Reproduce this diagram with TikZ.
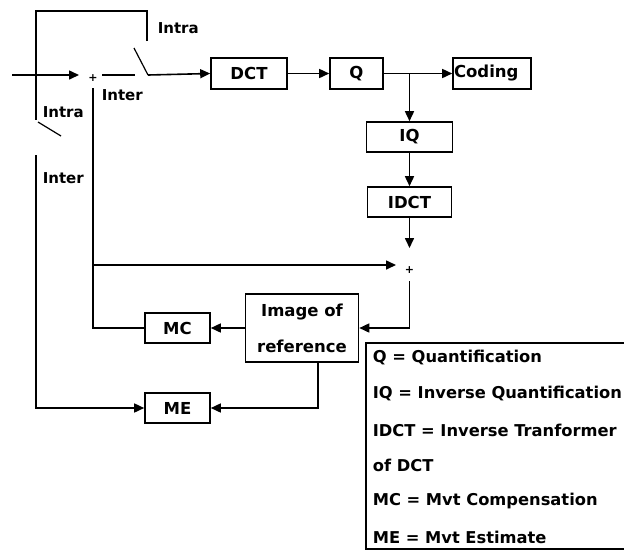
\documentclass[tikz,border=0pt]{standalone}
\usepackage{fontspec}
\setmainfont{DejaVu Sans}
\usetikzlibrary{arrows.meta}
\begin{document}
\begin{tikzpicture}[x=1pt,y=-1pt, line width=1.6pt,
  box/.style={draw, line width=1.6pt, minimum height=31pt, inner sep=0pt, font=\fontsize{16.5}{18}\selectfont\bfseries},
  arr/.style={-{Triangle[length=10pt,width=9pt]}},
  blade/.style={line width=1.2pt},
  lbl/.style={anchor=west, inner sep=0pt, font=\fontsize{15}{17}\selectfont\bfseries},
  leg/.style={anchor=west, inner sep=0pt, font=\fontsize{16.3}{18}\selectfont\bfseries},
  plus/.style={inner sep=0pt, font=\fontsize{11}{11}\selectfont\bfseries}]
\useasboundingbox (0,0) rectangle (624,550);
\clip (0,0) rectangle (624,550);
% boxes
\node[box, minimum width=76pt] (dct) at (249,73.5) {DCT};
\node[box, minimum width=53pt] (q) at (356.5,73.5) {Q};
\node[box, minimum width=78pt, text width=76pt, inner xsep=1pt, align=left] (cod) at (492,73.5) {Coding};
\node[box, minimum width=86pt, minimum height=30pt] (iq) at (409.5,137) {IQ};
\node[box, minimum width=84pt, minimum height=30pt] (idct) at (409.5,202) {IDCT};
\node[box, minimum width=65pt, minimum height=30pt] (mc) at (177.5,328) {MC};
\node[box, minimum width=65pt, minimum height=30pt] (me) at (177.5,408) {ME};
\node[box, minimum width=113pt, minimum height=68pt, align=center, font=\fontsize{16.5}{36}\selectfont\bfseries] (img) at (302,328) {Image of\\reference};
% summing points
\node[plus] (p1) at (93,78) {+};
\node[plus] (p2) at (409.5,270) {+};
% coordinates
\coordinate (in) at (12,75);
\coordinate (p1w) at (79,75);
\coordinate (ia) at (102,75);
\coordinate (ib) at (135,75);
\coordinate (piv) at (148,75);
\coordinate (bt) at (134,48);
\coordinate (tc) at (147,41);
\coordinate (tl) at (36,11);
\coordinate (lb) at (36,120);
\coordinate (lba) at (38,122);
\coordinate (lbb) at (61,136);
\coordinate (lc) at (36,155);
\coordinate (p1s) at (93,88);
\coordinate (hl) at (93,265);
\coordinate (p2w) at (396,265);
\coordinate (p2n) at (409.5,248);
\coordinate (p2s) at (409.5,281);
\coordinate (is) at (318,362);
% connectors
\draw[arr] (in) -- (p1w);
\draw (ia) -- (ib);
\draw[blade] (piv) -- (bt);
\draw (tc) |- (tl) -- (lb);
\draw[blade] (lba) -- (lbb);
\draw[arr] (lc) |- (me.west);
\draw[arr] (piv) -- (dct.west);
\draw[arr] (dct) -- (q);
\draw[arr] (q) -- (cod);
\draw[arr] (q.east -| iq.north) -- (iq.north);
\draw[arr] (iq) -- (idct);
\draw[arr] (idct) -- (p2n);
\draw[arr] (p2s) |- (img.east);
\draw[arr] (img) -- (mc);
\draw (mc.west) -| (p1s);
\draw[arr] (hl) -- (p2w);
\draw[arr] (is) |- (me.east);
% labels
\node[lbl] (l1) at (157,28) {Intra};
\node[lbl] (l2) at (101,95) {Inter};
\node[lbl] (l3) at (42,112) {Intra};
\node[lbl] (l4) at (42,178) {Inter};
% legend
\node[draw, line width=1.6pt, anchor=north west, minimum width=300pt, minimum height=206pt, inner sep=0pt] (legbox) at (365,342) {};
\node[leg] (g1) at (372,357) {Q = Quantification};
\node[leg] (g2) at (372,393) {IQ = Inverse Quantification};
\node[leg] (g3) at (372,430) {IDCT = Inverse Tranformer};
\node[leg] (g4) at (372,465) {of DCT};
\node[leg] (g5) at (372,501) {MC = Mvt Compensation};
\node[leg] (g6) at (372,537) {ME = Mvt Estimate};
\end{tikzpicture}
\end{document}
